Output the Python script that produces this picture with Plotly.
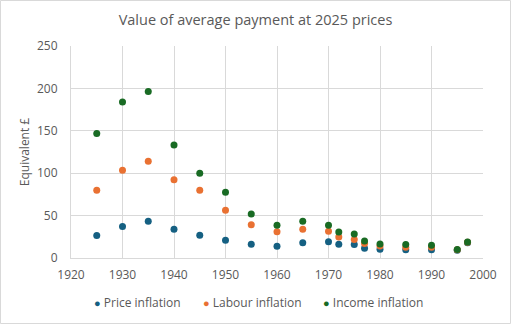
import plotly.graph_objects as go

# Survey years and equivalent value (in £ at 2025 prices) under three uprating measures
years = [1925, 1930, 1935, 1940, 1945, 1950, 1955, 1960, 1965, 1970, 1972, 1975, 1977, 1980, 1985, 1990, 1995, 1997]
price_inflation = [26.4, 37, 43.3, 33.8, 26.8, 20.9, 16.2, 13.8, 18.1, 19.3, 16.2, 15.8, 11.4, 10.3, 9.6, 9.6, 9.2, 18]
labour_inflation = [79.8, 103.4, 114, 92.4, 79.8, 56.3, 39.3, 31.1, 33.8, 31.5, 24.8, 21.7, 17, 14.2, 12.6, 12.6, 9.6, 18.5]
income_inflation = [146.7, 184, 196.2, 133.3, 99.9, 77.5, 51.9, 38.6, 43.3, 38.6, 30.7, 28.3, 20, 16.5, 15.8, 15, 9.9, 18.9]

series = [
    ("Price inflation", price_inflation, "#156082"),
    ("Labour inflation", labour_inflation, "#E97132"),
    ("Income inflation", income_inflation, "#196B24"),
]

font_family = "Open Sans, Liberation Sans, sans-serif"
text_grey = "#595959"
grid_grey = "#d9d9d9"

fig = go.Figure()
for name, values, colour in series:
    fig.add_trace(go.Scatter(
        x=years, y=values, name=name, mode="markers",
        marker=dict(color=colour, size=7, line=dict(width=0)),
    ))

W, H = 511, 324
ml, mr, mt, mb = 71, 28, 46, 66
pw, ph = W - ml - mr, H - mt - mb

fig.update_layout(
    width=W, height=H,
    margin=dict(l=ml, r=mr, t=mt, b=mb, autoexpand=False),
    paper_bgcolor="white", plot_bgcolor="white",
    font=dict(family=font_family, color=text_grey, size=12),
    title=dict(text="Value of average payment at 2025 prices",
               x=0.5, xanchor="center", y=1 - 20 / H, yanchor="middle",
               font=dict(size=14.5, color=text_grey)),
    xaxis=dict(range=[1920, 2000], dtick=10, tick0=1920,
               showgrid=True, gridcolor=grid_grey, gridwidth=1,
               showline=True, linecolor=grid_grey, zeroline=False,
               ticks="", ticklabelstandoff=6),
    yaxis=dict(range=[0, 250], dtick=50,
               showgrid=True, gridcolor=grid_grey, gridwidth=1,
               showline=True, linecolor=grid_grey, zeroline=False,
               ticks="", ticklabelstandoff=10,
               title=dict(text="Equivalent £", standoff=4, font=dict(size=12))),
    showlegend=False,
)

# Compact legend row beneath the axis: coloured dot followed by the series name
legend_x = [96, 205, 325]
legend_y = 302
for (name, _, colour), px in zip(series, legend_x):
    fig.add_annotation(
        xref="paper", yref="paper",
        x=(px - 4 - ml) / pw, y=(H - legend_y - mb) / ph,
        xanchor="left", yanchor="middle", showarrow=False,
        text=f'<span style="color:{colour};font-size:11px">●</span> {name}',
        font=dict(size=12, color=text_grey),
    )

# Light outline round the whole chart area
fig.add_shape(type="rect", xref="paper", yref="paper",
              x0=-(ml - 0.5) / pw, x1=1 + (mr - 0.5) / pw,
              y0=-(mb - 0.5) / ph, y1=1 + (mt - 0.5) / ph,
              line=dict(color=grid_grey, width=1), layer="below")

fig.write_html("out.html")
